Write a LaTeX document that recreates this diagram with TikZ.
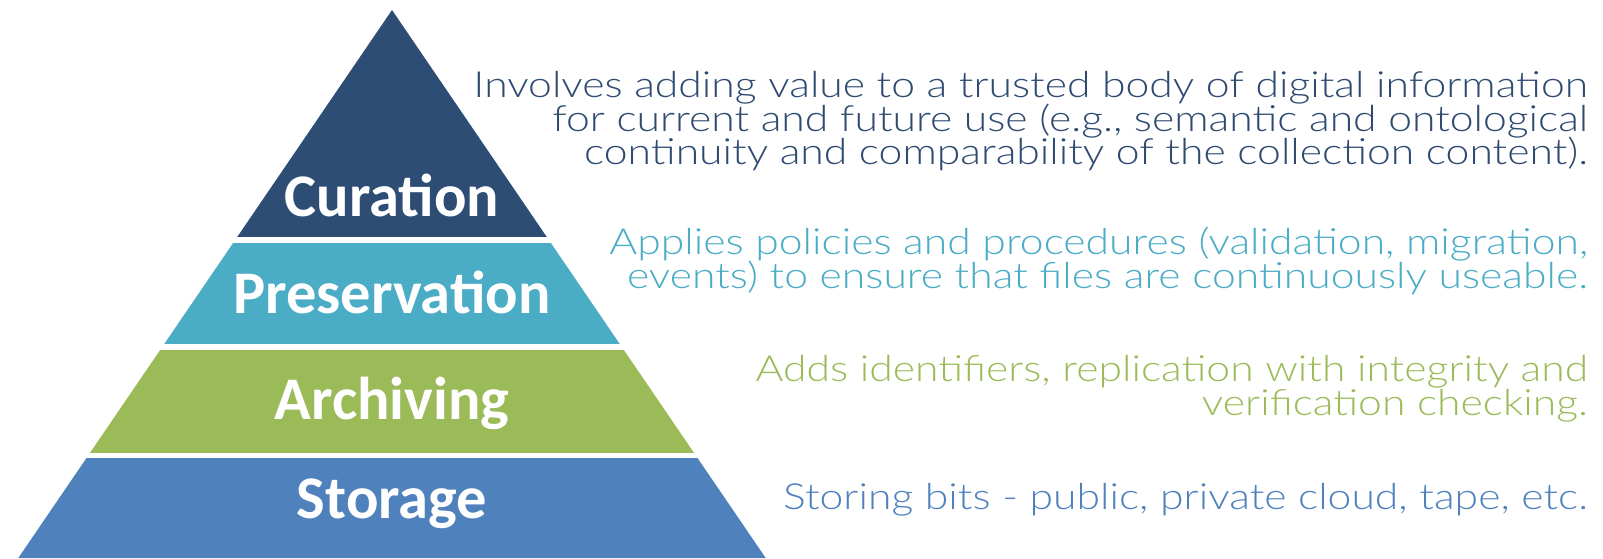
\documentclass[tikz,border=0pt]{standalone}
\usepackage{fontspec}
\setmainfont{Carlito}
\newfontfamily\descfont[UprightFont={* Light}, FakeStretch=1.185]{Lato}
\definecolor{curC}{HTML}{2D4D75}
\definecolor{preC}{HTML}{4BACC6}
\definecolor{arcC}{HTML}{9BBB59}
\definecolor{stoC}{HTML}{4F81BD}
\definecolor{curT}{HTML}{2E4A70}
\tikzset{
  lbl/.style={text=white, font=\fontsize{60.5}{62}\selectfont\bfseries, anchor=base, inner sep=0pt},
  desc/.style={font=\descfont\fontsize{36}{40}\selectfont, anchor=base east, inner sep=0pt}
}
\begin{document}
\begin{tikzpicture}[x=1pt,y=-1pt]
\useasboundingbox (0,0) rectangle (1603,558);
\coordinate (apex) at (392,10);
\coordinate (bl) at (18.3,558);
\coordinate (br) at (765.7,558);
\begin{scope}
\clip (apex) -- (bl) -- (br) -- cycle;
\fill[curC] (0,0) rectangle (800,237);
\fill[preC] (0,243) rectangle (800,344);
\fill[arcC] (0,350) rectangle (800,453);
\fill[stoC] (0,458) rectangle (800,560);
\end{scope}
\node[lbl] (lcur) at (392,216) {Curation};
\node[lbl] (lpre) at (392,313) {Preservation};
\node[lbl] (larc) at (392,419) {Archiving};
\node[lbl] (lsto) at (392,518) {Storage};
\node[desc, text=curT] (c1) at (1588,97) {Involves adding value to a trusted body of digital information};
\node[desc, text=curT] (c2) at (1588,131) {for current and future use (e.g., semantic and ontological};
\node[desc, text=curT] (c3) at (1588,164) {continuity and comparability of the collection content).};
\node[desc, text=preC] (p1) at (1588,254) {Applies policies and procedures (validation, migration,};
\node[desc, text=preC] (p2) at (1588,288) {events) to ensure that files are continuously useable.};
\node[desc, text=arcC] (a1) at (1588,381) {Adds identifiers, replication with integrity and};
\node[desc, text=arcC] (a2) at (1588,415) {verification checking.};
\node[desc, text=stoC] (s1) at (1588,509) {Storing bits - public, private cloud, tape, etc.};
\end{tikzpicture}
\end{document}
